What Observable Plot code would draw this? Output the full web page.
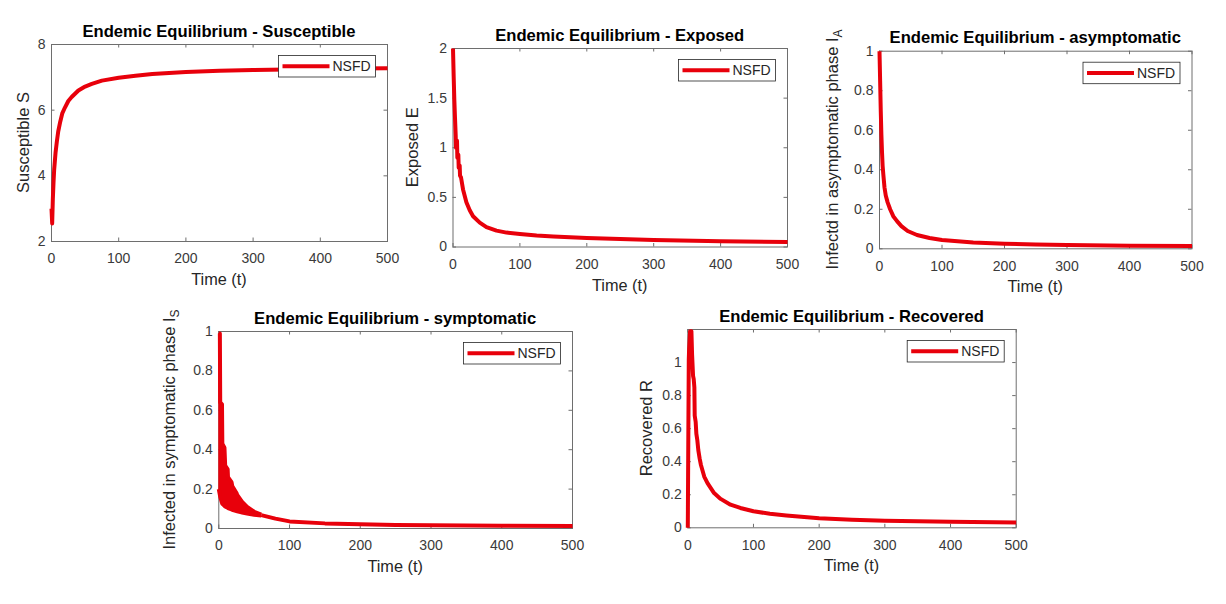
<!DOCTYPE html>
<html>
<head>
<meta charset="utf-8">
<script src="https://cdn.jsdelivr.net/npm/d3@7"></script>
<script src="https://cdn.jsdelivr.net/npm/@observablehq/plot@0.6"></script>
<style>
  html, body { margin: 0; padding: 0; background: #fff; }
  #fig { position: relative; width: 1226px; height: 604px; overflow: hidden; background: #fff; }
  #fig svg { position: absolute; }
</style>
</head>
<body>
<div id="fig"></div>
<script>
// ---- Time axis ----
const xTicks = [0, 100, 200, 300, 400, 500];

// ---- Susceptible S(t) ----
const tS = [0, 1, 2, 3, 4, 6, 8, 10, 13, 16, 20, 25, 30, 40, 50, 60, 75, 100, 125, 150, 200, 250, 300, 350, 400, 450, 500];
const S  = [3.0, 2.55, 3.3, 3.8, 4.2, 4.7, 5.05, 5.35, 5.65, 5.9, 6.08, 6.28, 6.4, 6.6, 6.72, 6.8, 6.9, 6.99, 7.05, 7.1, 7.16, 7.2, 7.22, 7.24, 7.26, 7.27, 7.28];
const yTicksS = [2, 4, 6, 8];

// ---- Exposed E(t) ----
const tE = [0, 1, 2, 3, 4, 4.5, 6, 6.5, 8, 8.5, 10, 10.5, 12, 15, 20, 25, 30, 40, 50, 65, 80, 100, 125, 150, 200, 250, 300, 400, 500];
const E  = [2.0, 1.72, 1.48, 1.3, 1.13, 1.0, 1.07, 0.9, 0.93, 0.8, 0.82, 0.72, 0.7, 0.58, 0.45, 0.37, 0.31, 0.245, 0.2, 0.165, 0.145, 0.13, 0.115, 0.105, 0.09, 0.08, 0.07, 0.058, 0.05];
const yTicksE = [0, 0.5, 1, 1.5, 2];

// ---- Asymptomatic infected I_A(t) ----
const tIA = [0, 1, 2, 3, 4, 5, 6, 8, 10, 13, 17, 22, 28, 35, 45, 60, 80, 100, 150, 200, 250, 300, 400, 500];
const IA  = [1.0, 0.85, 0.7, 0.58, 0.49, 0.42, 0.38, 0.31, 0.27, 0.235, 0.2, 0.165, 0.14, 0.115, 0.09, 0.07, 0.055, 0.045, 0.032, 0.026, 0.022, 0.019, 0.016, 0.014];

// ---- Symptomatic infected I_S(t): oscillating start (envelopes) and settled tail ----
const tISband = [0, 1.5, 2, 4.5, 5, 8, 9, 12.5, 13, 18, 19, 25, 26, 32, 33, 40, 50, 60];
const ISupper = [0.99, 0.99, 0.64, 0.63, 0.43, 0.41, 0.32, 0.30, 0.26, 0.235, 0.215, 0.18, 0.17, 0.14, 0.135, 0.11, 0.085, 0.07];
const ISlower = [0.2, 0.17, 0.16, 0.13, 0.125, 0.115, 0.112, 0.105, 0.104, 0.097, 0.095, 0.088, 0.087, 0.082, 0.081, 0.076, 0.07, 0.066];
const tIS = [60, 80, 100, 150, 200, 250, 300, 400, 500];
const IS  = [0.068, 0.05, 0.036, 0.026, 0.021, 0.018, 0.016, 0.014, 0.013];
const yTicksI = [0, 0.2, 0.4, 0.6, 0.8, 1];

// ---- Recovered R(t) ----
const tR = [0, 1.5, 2, 3.5, 5.5, 6.5, 8, 9, 10, 10.5, 12, 13, 14.5, 16, 18, 20, 25, 30, 40, 50, 65, 80, 100, 125, 150, 200, 250, 300, 400, 500];
const R  = [0, 1.02, 1.08, 1.19, 1.19, 1.05, 0.92, 0.9, 0.85, 0.68, 0.64, 0.57, 0.53, 0.47, 0.42, 0.38, 0.31, 0.27, 0.21, 0.175, 0.14, 0.12, 0.1, 0.085, 0.075, 0.058, 0.049, 0.043, 0.036, 0.032];
const yTicksR = [0, 0.2, 0.4, 0.6, 0.8, 1];

const legendLabel = "NSFD";

// ---- styling ----
const FONT = '"Liberation Sans", Arial, Helvetica, sans-serif';
const RED = "#e8000b";
const INK = "#262626";
const TICKINK = "#3a3a3a";
const FRAME = "#6e6e6e";
const LW = 4;

const rows = (t, v) => t.map((d, i) => ({t: d, v: v[i]}));
const lineOf = (t, v) => Plot.line(rows(t, v), {x: "t", y: "v", stroke: RED, strokeWidth: LW, strokeLinejoin: "round", strokeLinecap: "butt"});

function drawPanel(p) {
  const [rx, ry, rw, rh] = p.region;
  const [bl, bt, br, bb] = p.box;
  const W = br - bl, H = bb - bt, TL = 3.5;
  const svg = Plot.plot({
    width: rw, height: rh,
    marginLeft: bl - rx, marginTop: bt - ry, marginRight: rx + rw - br, marginBottom: ry + rh - bb,
    x: {domain: [0, 500]},
    y: {domain: p.yDomain},
    style: {background: "transparent", fontFamily: FONT, overflow: "visible"},
    marks: [
      Plot.frame({stroke: FRAME, strokeWidth: 1}),
      Plot.tickX(xTicks, {x: d => d, insetTop: H - TL, stroke: FRAME}),
      Plot.tickX(xTicks, {x: d => d, insetBottom: H - TL, stroke: FRAME}),
      Plot.tickY(p.yTicks, {y: d => d, insetRight: W - TL, stroke: FRAME}),
      Plot.tickY(p.yTicks, {y: d => d, insetLeft: W - TL, stroke: FRAME}),
      Plot.axisX(xTicks, {tickSize: 0, tickPadding: 12, fontSize: 14, color: TICKINK, tickFormat: d => String(d), label: null}),
      Plot.axisY(p.yTicks, {tickSize: 0, tickPadding: 6, fontSize: 14, color: TICKINK, tickFormat: d => String(d), label: null}),
      ...p.marks
    ]
  });
  svg.style.left = rx + "px";
  svg.style.top = ry + "px";
  const s = d3.select(svg);
  const cx = (bl + br) / 2 - rx;
  // title
  s.append("text")
    .attr("x", cx).attr("y", bt - ry - 7.5)
    .attr("text-anchor", "middle").attr("font-family", FONT)
    .attr("font-size", 16.6).attr("font-weight", "bold").attr("fill", "#000")
    .text(p.title);
  // x label
  s.append("text")
    .attr("x", cx).attr("y", bb - ry + 44)
    .attr("text-anchor", "middle").attr("font-family", FONT)
    .attr("font-size", 16.3).attr("fill", INK)
    .text("Time (t)");
  // y label
  const yl = s.append("text")
    .attr("transform", `translate(${bl - rx - p.ylabelGap},${(bt + bb) / 2 - ry}) rotate(-90)`)
    .attr("text-anchor", "middle").attr("font-family", FONT)
    .attr("font-size", 16.5).attr("fill", INK);
  yl.append("tspan").text(p.ylabel);
  if (p.ysub) yl.append("tspan").attr("dy", "0.35em").attr("font-size", 12).text(p.ysub);
  // legend
  const lw = 97, lh = 21.5;
  const lx = br - rx - 11.5 - lw, ly = bt - ry + 11.5;
  const g = s.append("g");
  g.append("rect").attr("x", lx).attr("y", ly).attr("width", lw).attr("height", lh)
    .attr("fill", "#fff").attr("stroke", INK).attr("stroke-width", 0.8);
  g.append("line").attr("x1", lx + 4).attr("x2", lx + 51).attr("y1", ly + lh / 2).attr("y2", ly + lh / 2)
    .attr("stroke", RED).attr("stroke-width", LW);
  g.append("text").attr("x", lx + 54).attr("y", ly + lh / 2 + 5)
    .attr("text-anchor", "start")
    .attr("font-family", FONT).attr("font-size", 14).attr("fill", INK)
    .text(legendLabel);
  document.getElementById("fig").appendChild(svg);
}

const panels = [
  {
    region: [0, 0, 405, 295], box: [51, 44, 387, 241],
    yDomain: [2, 8], yTicks: yTicksS,
    title: "Endemic Equilibrium - Susceptible", ylabel: "Susceptible S", ylabelGap: 22.5,
    marks: [lineOf(tS, S)]
  },
  {
    region: [405, 0, 405, 295], box: [452.5, 48, 787, 246.5],
    yDomain: [0, 2], yTicks: yTicksE,
    title: "Endemic Equilibrium - Exposed", ylabel: "Exposed E", ylabelGap: 34.5,
    marks: [lineOf(tE, E)]
  },
  {
    region: [810, 0, 416, 295], box: [879, 50.7, 1191.5, 248.3],
    yDomain: [0, 1], yTicks: yTicksI,
    title: "Endemic Equilibrium - asymptomatic", ylabel: "Infectd in asymptomatic phase I", ysub: "A", ylabelGap: 41,
    marks: [lineOf(tIA, IA)]
  },
  {
    region: [130, 295, 470, 309], box: [218.3, 331, 572, 528],
    yDomain: [0, 1], yTicks: yTicksI,
    title: "Endemic Equilibrium - symptomatic", ylabel: "Infected in symptomatic phase I", ysub: "S", ylabelGap: 43.3,
    marks: [
      Plot.areaY(tISband.map((t, i) => ({t, up: ISupper[i], lo: ISlower[i]})), {x: "t", y1: "lo", y2: "up", fill: RED}),
      lineOf(tISband, ISupper),
      lineOf(tISband, ISlower),
      lineOf(tIS, IS)
    ]
  },
  {
    region: [600, 295, 460, 309], box: [687.3, 329, 1015.7, 527.3],
    yDomain: [0, 1.2], yTicks: yTicksR,
    title: "Endemic Equilibrium - Recovered", ylabel: "Recovered R", ylabelGap: 35.3,
    marks: [lineOf(tR, R)]
  }
];

panels.forEach(drawPanel);
</script>
</body>
</html>
